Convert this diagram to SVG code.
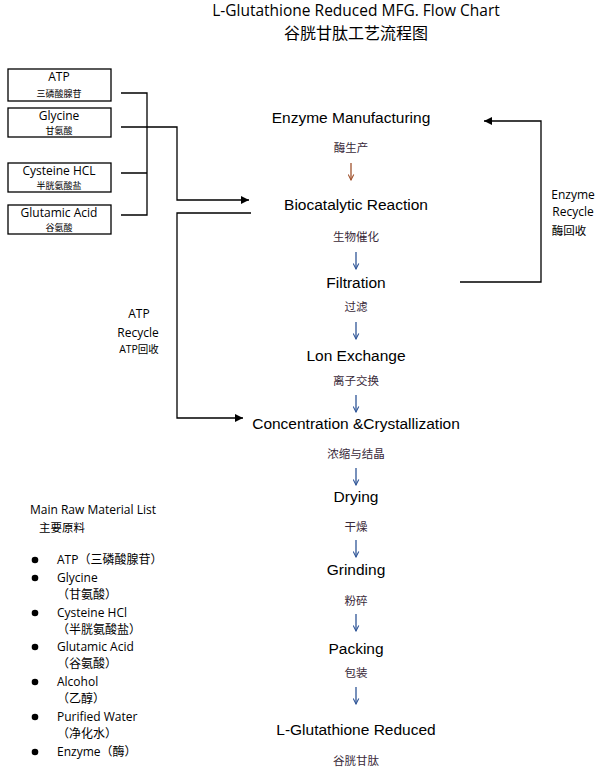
<svg xmlns="http://www.w3.org/2000/svg" width="604" height="770" viewBox="0 0 604 770">
<style>
text{font-family:"Open Sans","Noto Sans CJK SC",sans-serif;fill:#000}
.s{font-family:"Liberation Sans","Noto Sans CJK SC",sans-serif;font-size:15.5px;text-anchor:middle}
.c{font-family:"Noto Sans CJK SC",sans-serif;font-size:11.5px;text-anchor:middle;fill:#3a2a3a}
.bx{fill:#fff;stroke:#000;stroke-width:1.3}
.bt{font-size:12px;text-anchor:middle}
.bc{font-family:"Noto Sans CJK SC",sans-serif;font-size:9px;text-anchor:middle}
.l{font-size:12px}
.ln{fill:none;stroke:#000;stroke-width:1.3}
.dn{fill:none;stroke:#2f5597;stroke-width:1.3}
</style>
<defs>
<marker id="ar" viewBox="0 0 10 10" refX="10" refY="5" markerWidth="8" markerHeight="8" markerUnits="userSpaceOnUse" orient="auto"><path d="M0,0L10,5L0,10z" fill="#000"/></marker>
<marker id="dv" viewBox="0 0 10 10" refX="9" refY="5" markerWidth="7" markerHeight="7" markerUnits="userSpaceOnUse" orient="auto"><path d="M1,1L9,5L1,9" fill="none" stroke="#2f5597" stroke-width="1.5"/></marker>
<marker id="do" viewBox="0 0 10 10" refX="9" refY="5" markerWidth="7" markerHeight="7" markerUnits="userSpaceOnUse" orient="auto"><path d="M1,1L9,5L1,9" fill="none" stroke="#a0522d" stroke-width="1.5"/></marker>
</defs>
<text x="356" y="16" font-size="15.5" text-anchor="middle">L-Glutathione Reduced MFG. Flow Chart</text>
<text x="356" y="39" font-size="16" text-anchor="middle" font-family="Noto Sans CJK SC,sans-serif">谷胱甘肽工艺流程图</text>
<g id="n-atp"><rect class="bx" x="8" y="69" width="103" height="32"/><text class="bt" x="59" y="81">ATP</text><text class="bc" x="59" y="97">三磷酸腺苷</text></g>
<g id="n-gly"><rect class="bx" x="8" y="108" width="103" height="29"/><text class="bt" x="59" y="120">Glycine</text><text class="bc" x="59" y="134">甘氨酸</text></g>
<g id="n-cys"><rect class="bx" x="8" y="163" width="103" height="29"/><text class="bt" x="59" y="175">Cysteine HCL</text><text class="bc" x="59" y="189">半胱氨酸盐</text></g>
<g id="n-glu"><rect class="bx" x="8" y="205" width="103" height="29"/><text class="bt" x="59" y="217">Glutamic Acid</text><text class="bc" x="59" y="231">谷氨酸</text></g>
<g id="connectors">
<path class="ln" d="M121,93H147V215H121M121,173H147"/>
<path class="ln" d="M121,127H177V200H249" marker-end="url(#ar)"/>
<path class="ln" d="M251,213H177V418H243" marker-end="url(#ar)"/>
<path class="ln" d="M460,282H541V121H484" marker-end="url(#ar)"/>
<path d="M351,163V180" fill="none" stroke="#a0522d" stroke-width="1.3" marker-end="url(#do)"/>
<path class="dn" d="M356,252V269" marker-end="url(#dv)"/>
<path class="dn" d="M356,322V339" marker-end="url(#dv)"/>
<path class="dn" d="M356,395V412" marker-end="url(#dv)"/>
<path class="dn" d="M356,468V485" marker-end="url(#dv)"/>
<path class="dn" d="M356,540V557" marker-end="url(#dv)"/>
<path class="dn" d="M356,614V631" marker-end="url(#dv)"/>
<path class="dn" d="M356,687V704" marker-end="url(#dv)"/>
</g>
<g id="labels">
<text class="l" x="573" y="199" text-anchor="middle">Enzyme</text><text class="l" x="573" y="216" text-anchor="middle">Recycle</text><text class="c" x="569" y="235" style="fill:#000">酶回收</text>
<text class="l" x="139" y="318" text-anchor="middle">ATP</text><text class="l" x="138" y="337" text-anchor="middle">Recycle</text><text x="139" y="353" font-size="10.5" text-anchor="middle">ATP回收</text>
</g>
<g id="steps">
<text class="s" x="351" y="123">Enzyme Manufacturing</text><text class="c" x="351" y="152">酶生产</text>
<text class="s" x="356" y="210">Biocatalytic Reaction</text><text class="c" x="356" y="241">生物催化</text>
<text class="s" x="356" y="288">Filtration</text><text class="c" x="356" y="311">过滤</text>
<text class="s" x="356" y="361">Lon Exchange</text><text class="c" x="356" y="385">离子交换</text>
<text class="s" x="356" y="429">Concentration &amp;Crystallization</text><text class="c" x="356" y="458">浓缩与结晶</text>
<text class="s" x="356" y="502">Drying</text><text class="c" x="356" y="531">干燥</text>
<text class="s" x="356" y="575">Grinding</text><text class="c" x="356" y="605">粉碎</text>
<text class="s" x="356" y="654">Packing</text><text class="c" x="356" y="677">包装</text>
<text class="s" x="356" y="735">L-Glutathione Reduced</text><text class="c" x="356" y="765">谷胱甘肽</text>
</g>
<g id="list">
<text x="30" y="514" font-size="12">Main Raw Material List</text><text x="39" y="532" font-size="11.5" font-family="Noto Sans CJK SC,sans-serif">主要原料</text>
<g fill="#000"><circle cx="35" cy="560" r="3.3"/><circle cx="35" cy="578" r="3.3"/><circle cx="35" cy="613" r="3.3"/><circle cx="35" cy="647" r="3.3"/><circle cx="35" cy="682" r="3.3"/><circle cx="35" cy="717" r="3.3"/><circle cx="35" cy="752" r="3.3"/></g>
<text class="l" x="57" y="564">ATP（三磷酸腺苷）</text>
<text class="l" x="57" y="582">Glycine</text><text class="l" x="57" y="599">（甘氨酸）</text>
<text class="l" x="57" y="617">Cysteine HCl</text><text class="l" x="57" y="634">（半胱氨酸盐）</text>
<text class="l" x="57" y="651">Glutamic Acid</text><text class="l" x="57" y="668">（谷氨酸）</text>
<text class="l" x="57" y="686">Alcohol</text><text class="l" x="57" y="703">（乙醇）</text>
<text class="l" x="57" y="721">Purified Water</text><text class="l" x="57" y="738">（净化水）</text>
<text class="l" x="57" y="756">Enzyme（酶）</text>
</g>
</svg>
